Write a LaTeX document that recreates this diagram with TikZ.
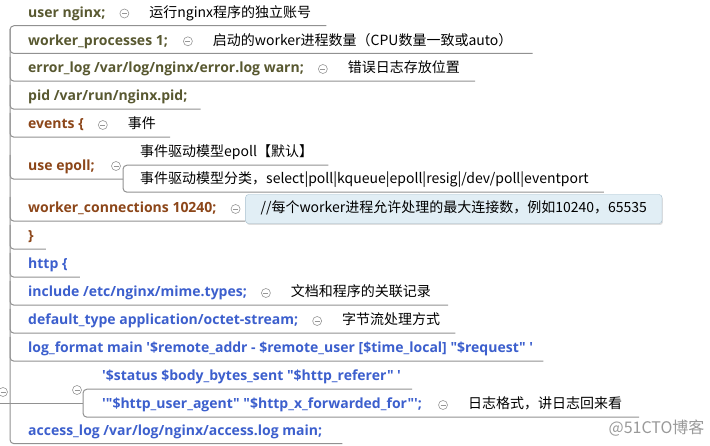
\documentclass[tikz,border=0pt]{standalone}
\usepackage{fontspec}
\usetikzlibrary{positioning,shadows}
\newfontfamily\codefont{Open Sans}[Ligatures=TeXOff]
\newfontfamily\cjk{Noto Sans CJK SC}
\definecolor{cfgolive}{RGB}{88,88,48}
\definecolor{cfgbrown}{RGB}{140,70,25}
\definecolor{cfgblue}{RGB}{60,95,205}
\definecolor{linegray}{RGB}{145,145,145}
\definecolor{foldgray}{RGB}{150,150,150}
\definecolor{tipfill}{RGB}{225,238,245}
\definecolor{tipdraw}{RGB}{165,190,205}
\tikzset{
  item/.style={font=\codefont\bfseries\fontsize{14}{16}\selectfont, inner sep=0pt, anchor=base west, text height=16pt, text depth=8pt},
  note/.style={font=\cjk\fontsize{14}{16}\selectfont, inner sep=0pt, text height=16pt, text depth=8pt},
  fold/.style={circle, draw=foldgray, line width=0.6pt, minimum size=9pt, inner sep=0pt, fill=white,
    path picture={\draw[foldgray, line width=0.6pt] ([xshift=-2.5pt]path picture bounding box.center) -- ([xshift=2.5pt]path picture bounding box.center);}},
  branch/.style={draw=linegray, line width=1pt, rounded corners=4pt},
  tipbox/.style={font=\cjk\fontsize{14}{16}\selectfont, text height=11pt, text depth=3pt, inner xsep=15pt, inner ysep=7.5pt,
    fill=tipfill, draw=tipdraw, rounded corners=3pt, drop shadow={shadow xshift=1pt, shadow yshift=-1.5pt, fill=black!25}},
}
\begin{document}
\begin{tikzpicture}[x=1pt,y=-1pt]
\useasboundingbox (0,0) rectangle (710,446);
\coordinate (spine) at (10,0);
\coordinate (epb) at (123,0);
\coordinate (fmtb) at (83,0);
\coordinate (root) at (0,404);
% global part
\node[item,text=cfgolive] (user) at (28,17.5) {user nginx;};
\node[fold,right=14pt of user] (userf) {};
\node[note,right=20pt of userf] (usern) {运行nginx程序的独立账号};
\node[item,text=cfgolive] (wp) at (28,45.3) {worker\_processes 1;};
\node[fold,right=15pt of wp] (wpf) {};
\node[note,right=20pt of wpf] (wpn) {启动的worker进程数量（CPU数量一致或auto）};
\node[item,text=cfgolive] (el) at (28,73) {error\_log /var/log/nginx/error.log warn;};
\node[fold,right=14pt of el] (elf) {};
\node[note,right=20pt of elf] (eln) {错误日志存放位置};
\node[item,text=cfgolive] (pid) at (28,101) {pid /var/run/nginx.pid;};
% events
\node[item,text=cfgbrown] (ev) at (28,129) {events \{};
\node[fold,right=14pt of ev] (evf) {};
\node[note,right=20pt of evf] (evn) {事件};
\node[item,text=cfgbrown] (ep) at (28,171) {use epoll;};
\node[fold] (epf) at (116,166) {};
\node[note,anchor=base west] (ec1) at (140,157) {事件驱动模型epoll【默认】};
\node[note,anchor=base west] (ec2) at (140,184) {事件驱动模型分类，select|poll|kqueue|epoll|resig|/dev/poll|eventport};
\node[item,text=cfgbrown] (wc) at (28,213) {worker\_connections 10240;};
\node[fold,right=14pt of wc] (wcf) {};
\node[tipbox,right=5pt of wcf] (wcn) {//每个worker进程允许处理的最大连接数，例如10240，65535};
\node[item,text=cfgbrown] (rb) at (28,241) {\}};
% http
\node[item,text=cfgblue] (http) at (28,269) {http \{};
\node[item,text=cfgblue] (inc) at (28,297) {include /etc/nginx/mime.types;};
\node[fold,right=14pt of inc] (incf) {};
\node[note,right=20pt of incf] (incn) {文档和程序的关联记录};
\node[item,text=cfgblue] (dt) at (28,325) {default\_type application/octet-stream;};
\node[fold,right=14pt of dt] (dtf) {};
\node[note,right=20pt of dtf] (dtn) {字节流处理方式};
\node[item,text=cfgblue] (lf) at (28,353) {log\_format main '\$remote\_addr - \$remote\_user [\$time\_local] "\$request" '};
\node[item] (fmt) at (28,396) {};
\node[fold] (fmtf) at (77,390) {};
\node[item,text=cfgblue] (s1) at (102,381) {'\$status \$body\_bytes\_sent "\$http\_referer" '};
\node[item,text=cfgblue] (s2) at (102,409) {'"\$http\_user\_agent" "\$http\_x\_forwarded\_for"';};
\node[fold,right=16pt of s2] (s2f) {};
\node[note,right=20pt of s2f] (s2n) {日志格式，讲日志回来看};
\node[item,text=cfgblue] (acc) at (28,435.5) {access\_log /var/log/nginx/access.log main;};
\node[fold] (rootf) at (3,392) {};
% branches
\draw[branch] ([xshift=15pt]usern.south east) -| (spine |- acc.south) -- ([xshift=20pt]acc.south east);
\draw[branch] (spine |- wp.north) |- ([xshift=20pt]wpn.south east);
\draw[branch] (spine |- el.north) |- ([xshift=15pt]eln.south east);
\draw[branch] (spine |- pid.north) |- ([xshift=13pt]pid.south east);
\draw[branch] (spine |- ev.north) |- ([xshift=14pt]evn.south east);
\draw[branch] (spine |- ep.north) |- (epb |- ep.south);
\draw[branch] ([xshift=15pt]ec1.south east) -| (epb |- ec2.south) -- ([xshift=15pt]ec2.south east);
\draw[branch] (spine |- wc.north) |- (wcn.west |- wc.south);
\draw[branch] (spine |- rb.north) |- ([xshift=12pt]rb.south east);
\draw[branch] (spine |- http.north) |- ([xshift=12pt]http.south east);
\draw[branch] (spine |- inc.north) |- ([xshift=17pt]incn.south east);
\draw[branch] (spine |- dt.north) |- ([xshift=15pt]dtn.south east);
\draw[branch] (spine |- lf.north) |- ([xshift=10pt]lf.south east);
\draw[branch] (root) -- (fmtb |- root);
\draw[branch] ([xshift=11pt]s1.south east) -| (fmtb |- s2.south) -- ([xshift=17pt]s2n.south east);
% watermark
\node[font=\cjk\fontsize{16}{18}\selectfont, text=black!40, anchor=east] (mark) at (708,428) {@51CTO博客};
\end{tikzpicture}
\end{document}
